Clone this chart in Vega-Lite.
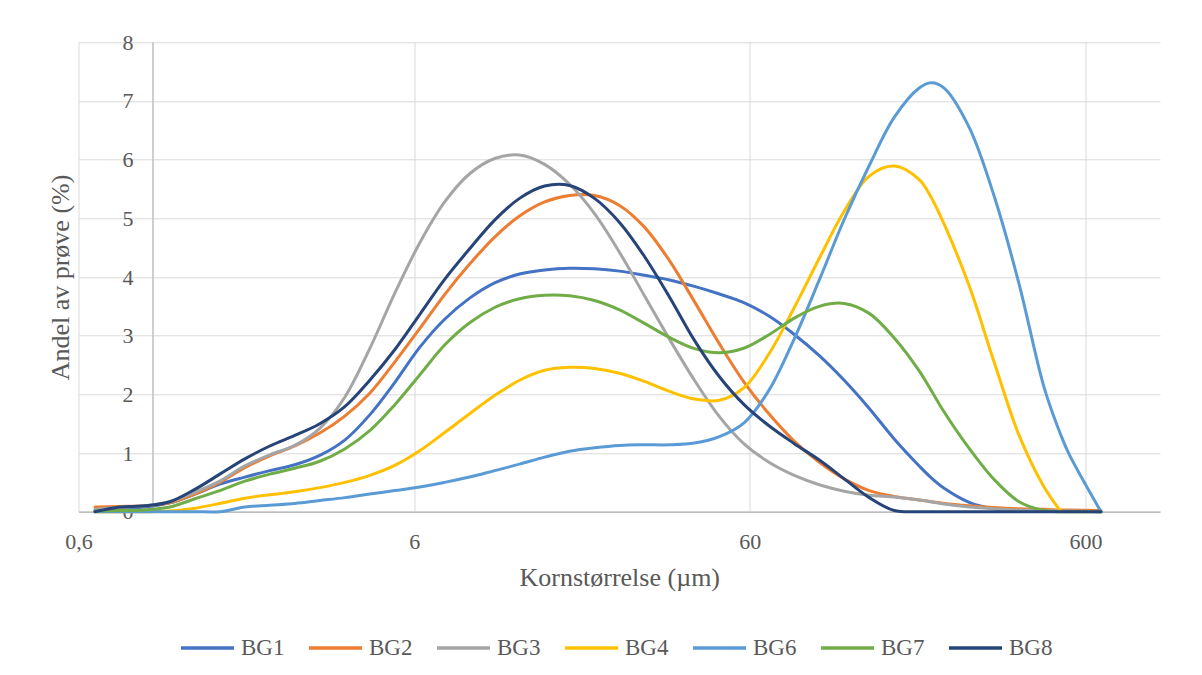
{
  "$schema": "https://vega.github.io/schema/vega-lite/v6.json",
  "width": 1081.5,
  "height": 469.4,
  "autosize": {"type": "none"},
  "padding": {"left": 78.5, "top": 42.3, "right": 42, "bottom": 163.3},
  "background": "white",
  "config": {"view": {"stroke": null}, "font": "Times New Roman, Liberation Serif, DejaVu Serif, serif"},
  "datasets": {
    "psd": [
      {"d": 0.672, "BG1": 0.02, "BG2": 0.08, "BG3": 0.04, "BG4": 0, "BG6": 0, "BG7": 0.01, "BG8": 0},
      {"d": 0.797, "BG1": 0.05, "BG2": 0.09, "BG3": 0.07, "BG4": 0, "BG6": 0, "BG7": 0.02, "BG8": 0.08},
      {"d": 0.946, "BG1": 0.08, "BG2": 0.1, "BG3": 0.1, "BG4": 0, "BG6": 0, "BG7": 0.03, "BG8": 0.1},
      {"d": 1.123, "BG1": 0.15, "BG2": 0.15, "BG3": 0.17, "BG4": 0.01, "BG6": 0, "BG7": 0.08, "BG8": 0.17},
      {"d": 1.333, "BG1": 0.3, "BG2": 0.3, "BG3": 0.33, "BG4": 0.06, "BG6": 0, "BG7": 0.22, "BG8": 0.38},
      {"d": 1.582, "BG1": 0.47, "BG2": 0.5, "BG3": 0.52, "BG4": 0.14, "BG6": 0, "BG7": 0.36, "BG8": 0.64},
      {"d": 1.878, "BG1": 0.59, "BG2": 0.75, "BG3": 0.78, "BG4": 0.23, "BG6": 0.08, "BG7": 0.52, "BG8": 0.9},
      {"d": 2.229, "BG1": 0.7, "BG2": 0.95, "BG3": 0.97, "BG4": 0.29, "BG6": 0.11, "BG7": 0.64, "BG8": 1.12},
      {"d": 2.645, "BG1": 0.8, "BG2": 1.12, "BG3": 1.13, "BG4": 0.34, "BG6": 0.14, "BG7": 0.74, "BG8": 1.3},
      {"d": 3.14, "BG1": 0.96, "BG2": 1.34, "BG3": 1.42, "BG4": 0.41, "BG6": 0.19, "BG7": 0.86, "BG8": 1.5},
      {"d": 3.727, "BG1": 1.22, "BG2": 1.63, "BG3": 1.95, "BG4": 0.5, "BG6": 0.24, "BG7": 1.07, "BG8": 1.79},
      {"d": 4.424, "BG1": 1.65, "BG2": 2.02, "BG3": 2.78, "BG4": 0.62, "BG6": 0.3, "BG7": 1.38, "BG8": 2.24},
      {"d": 5.25, "BG1": 2.2, "BG2": 2.55, "BG3": 3.72, "BG4": 0.79, "BG6": 0.36, "BG7": 1.82, "BG8": 2.76},
      {"d": 6.231, "BG1": 2.8, "BG2": 3.12, "BG3": 4.58, "BG4": 1.04, "BG6": 0.42, "BG7": 2.33, "BG8": 3.36},
      {"d": 7.395, "BG1": 3.28, "BG2": 3.7, "BG3": 5.28, "BG4": 1.35, "BG6": 0.5, "BG7": 2.84, "BG8": 3.96},
      {"d": 8.778, "BG1": 3.64, "BG2": 4.22, "BG3": 5.76, "BG4": 1.67, "BG6": 0.59, "BG7": 3.22, "BG8": 4.48},
      {"d": 10.42, "BG1": 3.9, "BG2": 4.68, "BG3": 6.02, "BG4": 1.98, "BG6": 0.7, "BG7": 3.48, "BG8": 4.97},
      {"d": 12.36, "BG1": 4.05, "BG2": 5.04, "BG3": 6.08, "BG4": 2.24, "BG6": 0.81, "BG7": 3.63, "BG8": 5.34},
      {"d": 14.68, "BG1": 4.12, "BG2": 5.28, "BG3": 5.92, "BG4": 2.41, "BG6": 0.93, "BG7": 3.69, "BG8": 5.55},
      {"d": 17.42, "BG1": 4.15, "BG2": 5.39, "BG3": 5.58, "BG4": 2.46, "BG6": 1.03, "BG7": 3.68, "BG8": 5.56},
      {"d": 20.67, "BG1": 4.14, "BG2": 5.39, "BG3": 5.08, "BG4": 2.44, "BG6": 1.09, "BG7": 3.6, "BG8": 5.34},
      {"d": 24.54, "BG1": 4.1, "BG2": 5.22, "BG3": 4.42, "BG4": 2.36, "BG6": 1.13, "BG7": 3.44, "BG8": 4.93},
      {"d": 29.12, "BG1": 4.03, "BG2": 4.85, "BG3": 3.68, "BG4": 2.22, "BG6": 1.14, "BG7": 3.21, "BG8": 4.35},
      {"d": 34.57, "BG1": 3.95, "BG2": 4.28, "BG3": 2.94, "BG4": 2.05, "BG6": 1.14, "BG7": 2.97, "BG8": 3.66},
      {"d": 41.03, "BG1": 3.84, "BG2": 3.58, "BG3": 2.24, "BG4": 1.92, "BG6": 1.17, "BG7": 2.78, "BG8": 2.92},
      {"d": 48.7, "BG1": 3.71, "BG2": 2.86, "BG3": 1.62, "BG4": 1.9, "BG6": 1.28, "BG7": 2.71, "BG8": 2.3},
      {"d": 57.78, "BG1": 3.56, "BG2": 2.2, "BG3": 1.15, "BG4": 2.12, "BG6": 1.52, "BG7": 2.79, "BG8": 1.82},
      {"d": 68.58, "BG1": 3.33, "BG2": 1.66, "BG3": 0.84, "BG4": 2.7, "BG6": 2.08, "BG7": 3.02, "BG8": 1.46},
      {"d": 81.4, "BG1": 3.02, "BG2": 1.2, "BG3": 0.62, "BG4": 3.48, "BG6": 2.95, "BG7": 3.3, "BG8": 1.16},
      {"d": 96.62, "BG1": 2.66, "BG2": 0.84, "BG3": 0.46, "BG4": 4.32, "BG6": 3.95, "BG7": 3.5, "BG8": 0.88},
      {"d": 114.6, "BG1": 2.24, "BG2": 0.56, "BG3": 0.35, "BG4": 5.12, "BG6": 4.98, "BG7": 3.55, "BG8": 0.56},
      {"d": 136.1, "BG1": 1.76, "BG2": 0.36, "BG3": 0.28, "BG4": 5.72, "BG6": 5.9, "BG7": 3.38, "BG8": 0.24},
      {"d": 161.5, "BG1": 1.24, "BG2": 0.26, "BG3": 0.25, "BG4": 5.89, "BG6": 6.72, "BG7": 2.96, "BG8": 0.02},
      {"d": 191.7, "BG1": 0.78, "BG2": 0.2, "BG3": 0.2, "BG4": 5.66, "BG6": 7.22, "BG7": 2.4, "BG8": 0},
      {"d": 208, "BG1": 0.58, "BG2": 0.17, "BG3": 0.17, "BG4": 5.36, "BG6": 7.31, "BG7": 2.07, "BG8": 0},
      {"d": 227.5, "BG1": 0.4, "BG2": 0.14, "BG3": 0.13, "BG4": 4.9, "BG6": 7.22, "BG7": 1.7, "BG8": 0},
      {"d": 270.1, "BG1": 0.16, "BG2": 0.1, "BG3": 0.08, "BG4": 3.85, "BG6": 6.55, "BG7": 1.08, "BG8": 0},
      {"d": 320.5, "BG1": 0.05, "BG2": 0.07, "BG3": 0.05, "BG4": 2.55, "BG6": 5.38, "BG7": 0.55, "BG8": 0},
      {"d": 380.4, "BG1": 0.02, "BG2": 0.05, "BG3": 0.03, "BG4": 1.3, "BG6": 3.88, "BG7": 0.17, "BG8": 0},
      {"d": 451.5, "BG1": 0.01, "BG2": 0.04, "BG3": 0.02, "BG4": 0.42, "BG6": 2.12, "BG7": 0.02, "BG8": 0},
      {"d": 507, "BG1": 0.01, "BG2": 0.03, "BG3": 0.01, "BG4": 0, "BG6": 1.3, "BG7": 0, "BG8": 0},
      {"d": 535.9, "BG1": 0.01, "BG2": 0.03, "BG3": 0.01, "BG4": null, "BG6": 0.98, "BG7": 0, "BG8": 0},
      {"d": 667, "BG1": 0, "BG2": 0.02, "BG3": 0, "BG4": null, "BG6": 0, "BG7": 0, "BG8": 0}
    ],
    "axisline": [{"d": 1}]
  },
  "encoding": {
    "x": {
      "field": "d",
      "type": "quantitative",
      "scale": {"type": "log", "domain": [0.6, 1000], "nice": false},
      "axis": {
        "values": [0.6, 6, 60, 600],
        "labelExpr": "datum.value < 1 ? '0,6' : format(datum.value, 'd')",
        "labelFlush": false,
        "labelOverlap": false,
        "grid": true,
        "gridColor": "#D9D9D9",
        "gridWidth": 1,
        "domainColor": "#BFBFBF",
        "domainWidth": 1.5,
        "ticks": false,
        "tickSize": 0,
        "labelFontSize": 22,
        "labelColor": "#595959",
        "labelBaseline": "alphabetic",
        "labelPadding": 37,
        "title": "Kornstørrelse (µm)",
        "titleFontSize": 26,
        "titleFontWeight": "normal",
        "titleColor": "#595959",
        "titleBaseline": "alphabetic",
        "titleAlign": "center",
        "titleX": 540.75,
        "titleY": 73.3
      }
    }
  },
  "layer": [
    {
      "data": {"name": "axisline"},
      "mark": {"type": "rule", "color": "#BFBFBF", "strokeWidth": 1.5}
    },
    {
      "data": {"name": "psd"},
      "transform": [
        {"fold": ["BG1", "BG2", "BG3", "BG4", "BG6", "BG7", "BG8"], "as": ["serie", "andel"]}
      ],
      "mark": {"type": "line", "interpolate": "catmull-rom", "strokeWidth": 3, "strokeCap": "round", "strokeJoin": "round"},
      "encoding": {
        "y": {
          "field": "andel",
          "type": "quantitative",
          "scale": {"domain": [0, 8], "nice": false, "zero": true},
          "axis": {
            "values": [0, 1, 2, 3, 4, 5, 6, 7, 8],
            "grid": true,
            "gridColor": "#D9D9D9",
            "gridWidth": 1,
            "domain": false,
            "ticks": false,
            "tickSize": 0,
            "labelFontSize": 22,
            "labelColor": "#595959",
            "labelAlign": "right",
            "labelBaseline": "middle",
            "labelPadding": -54.5,
            "title": "Andel av prøve (%)",
            "titleFontSize": 26,
            "titleFontWeight": "normal",
            "titleColor": "#595959",
            "titleAngle": -90,
            "titleAlign": "center",
            "titleBaseline": "alphabetic",
            "titleX": -10.5,
            "titleY": 234.7
          }
        },
        "color": {
          "field": "serie",
          "type": "nominal",
          "scale": {
            "domain": ["BG1", "BG2", "BG3", "BG4", "BG6", "BG7", "BG8"],
            "range": ["#4472C4", "#ED7D31", "#A5A5A5", "#FFC000", "#5B9BD5", "#70AD47", "#264478"]
          },
          "legend": {
            "orient": "none",
            "legendX": 100.5,
            "legendY": 577,
            "direction": "horizontal",
            "columns": 7,
            "title": null,
            "symbolType": "stroke",
            "symbolSize": 2809,
            "symbolStrokeWidth": 3.5,
            "labelFontSize": 23,
            "labelColor": "#595959",
            "labelOffset": 5,
            "columnPadding": 17
          }
        }
      }
    }
  ]
}
